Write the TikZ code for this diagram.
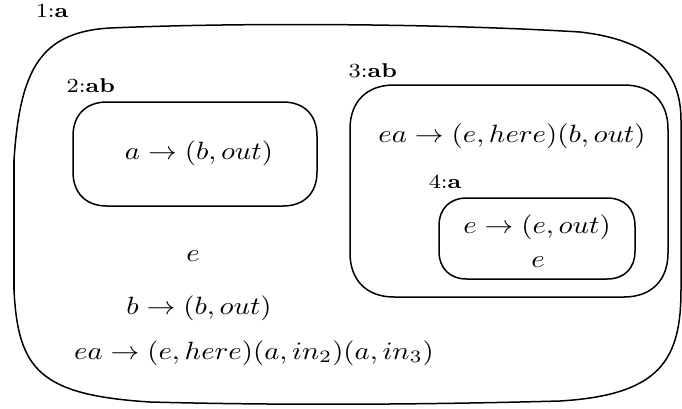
\documentclass[tikz,border=0pt]{standalone}
\usepackage{graphicx}
\newcommand{\hs}[1]{\scalebox{1.15}[1]{#1}}
\newcommand{\roundbox}[5]{% L T R B r
  \draw ({#1+#5},#2) -- ({#3-#5},#2)
    .. controls ({#3-0.38*#5},#2) and (#3,{#2+0.38*#5}) .. (#3,{#2+#5})
    -- (#3,{#4-#5})
    .. controls (#3,{#4-0.38*#5}) and ({#3-0.38*#5},#4) .. ({#3-#5},#4)
    -- ({#1+#5},#4)
    .. controls ({#1+0.38*#5},#4) and (#1,{#4-0.38*#5}) .. (#1,{#4-#5})
    -- (#1,{#2+#5})
    .. controls (#1,{#2+0.38*#5}) and ({#1+0.38*#5},#2) .. ({#1+#5},#2) -- cycle;}
\begin{document}
\begin{tikzpicture}[x=0.4pt,y=-0.4pt,line width=0.6pt,
  lbl/.style={anchor=base west,inner sep=0pt,font=\footnotesize},
  mth/.style={anchor=base,inner sep=0pt}]
\useasboundingbox (0,0) rectangle (682,408);
% outer region 1
\draw (110,28) .. controls (250,22) and (450,24) .. (580,32)
  .. controls (650,40) and (681,70) .. (681,120)
  -- (681,290)
  .. controls (681,360) and (660,395) .. (560,401)
  .. controls (450,404) and (300,406) .. (150,402)
  .. controls (40,395) and (18,370) .. (14,290)
  -- (14,160)
  .. controls (20,70) and (40,32) .. (110,28) -- cycle;
% region 2
\roundbox{73}{102}{317}{206}{34}
% region 3
\roundbox{350}{85}{668}{297}{44}
% region 4
\roundbox{439}{198}{635}{279}{28}
% labels
\node[lbl] (l1) at (35,17) {\hs{1:\textbf{a}}};
\node[lbl] (l2) at (66,92) {\hs{2:\textbf{ab}}};
\node[lbl] (l3) at (348,77) {\hs{3:\textbf{ab}}};
\node[lbl] (l4) at (428,188) {\hs{4:\textbf{a}}};
% rules
\node[mth] (r2) at (199,159) {\hs{$a \to (b,out)$}};
\node[mth] (r3) at (512,142) {\hs{$ea \to (e,here)(b,out)$}};
\node[mth] (r4a) at (537,233) {\hs{$e \to (e,out)$}};
\node[mth] (r4b) at (538,267) {\hs{$e$}};
\node[mth] (r1a) at (193,261) {\hs{$e$}};
\node[mth] (r1b) at (199,314) {\hs{$b \to (b,out)$}};
\node[mth] (r1c) at (254,359) {\hs{$ea \to (e,here)(a,in_2)(a,in_3)$}};
\end{tikzpicture}
\end{document}
